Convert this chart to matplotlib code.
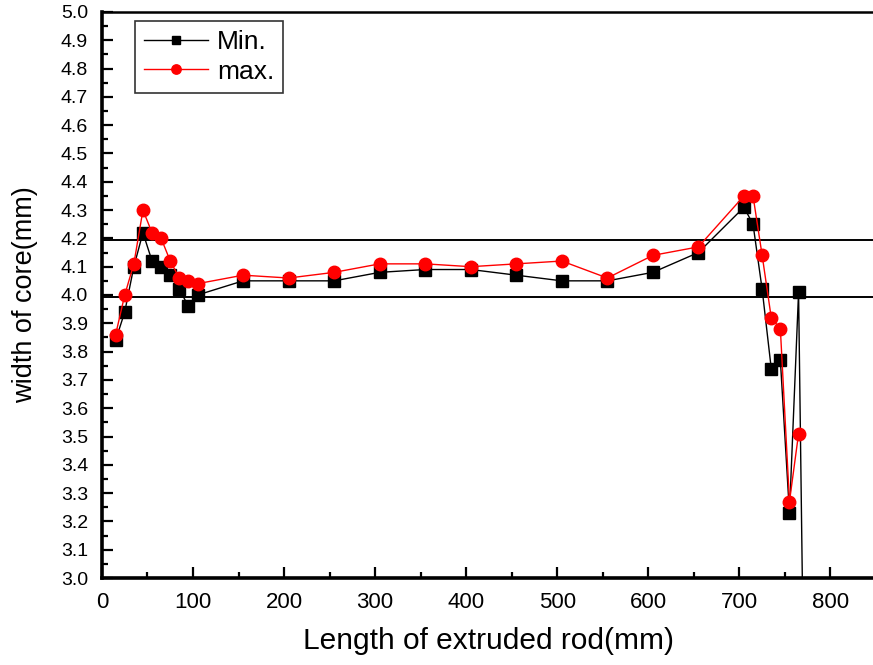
import numpy as np
import matplotlib
matplotlib.use("Agg")
import matplotlib.pyplot as plt
from matplotlib.ticker import MultipleLocator

# Sampling positions along the rod (mm)
length_mm = [15, 25, 35, 45, 55, 65, 75, 85, 95, 105,
             155, 205, 255, 305, 355, 405, 455, 505, 555, 605, 655,
             705, 715, 725, 735, 745, 755, 765]

width_min = [3.84, 3.94, 4.10, 4.22, 4.12, 4.10, 4.07, 4.02, 3.96, 4.00,
             4.05, 4.05, 4.05, 4.08, 4.09, 4.09, 4.07, 4.05, 4.05, 4.08, 4.15,
             4.31, 4.25, 4.02, 3.74, 3.77, 3.23, 4.01]
width_max = [3.86, 4.00, 4.11, 4.30, 4.22, 4.20, 4.12, 4.06, 4.05, 4.04,
             4.07, 4.06, 4.08, 4.11, 4.11, 4.10, 4.11, 4.12, 4.06, 4.14, 4.17,
             4.35, 4.35, 4.14, 3.92, 3.88, 3.27, 3.51]

# last Min. reading falls far below the axis range (only its line shows)
min_tail_x = 775
min_tail_y = 1.55

limit_upper = 4.193
limit_lower = 3.992

plt.rcParams["font.family"] = ["Liberation Sans", "DejaVu Sans"]

fig = plt.figure(figsize=(8.73, 6.65), dpi=100)
ax = fig.add_axes([0.1168, 0.1308, 0.8866, 0.8512])

ax.axhline(limit_upper, color="black", lw=1.4, zorder=1)
ax.axhline(limit_lower, color="black", lw=1.4, zorder=1)

ax.plot(length_mm + [min_tail_x], width_min + [min_tail_y], color="black",
        lw=1.0, marker="s", ms=8, markevery=list(range(len(length_mm))),
        label="Min.", zorder=2)
ax.plot(length_mm, width_max, color="red", lw=1.0, marker="o", ms=9,
        label="max.", zorder=3)

ax.set_xlim(0, 850)
ax.set_ylim(3.0, 5.0)
ax.xaxis.set_major_locator(MultipleLocator(100))
ax.xaxis.set_minor_locator(MultipleLocator(50))
ax.yaxis.set_major_locator(MultipleLocator(0.1))
ax.yaxis.set_minor_locator(MultipleLocator(0.05))
ax.tick_params(which="both", direction="in", width=1.6, top=False)
ax.tick_params(which="major", length=8)
ax.tick_params(which="minor", length=4.5)
ax.tick_params(axis="x", labelsize=16, pad=10)
ax.tick_params(axis="y", labelsize=14, pad=10)

for side in ("left", "bottom"):
    ax.spines[side].set_linewidth(2.6)
ax.spines["top"].set_linewidth(1.8)
ax.spines["right"].set_visible(False)

ax.set_xlabel("Length of extruded rod(mm)", fontsize=21.5, labelpad=10)
ax.set_ylabel("width of core(mm)", fontsize=19.5, labelpad=16)

leg = ax.legend(loc="upper left", bbox_to_anchor=(0.0426, 0.984), fontsize=19,
                frameon=True, fancybox=False, edgecolor="black",
                handlelength=2.4, handletextpad=0.35, borderpad=0.35,
                labelspacing=0.2, markerscale=0.75, borderaxespad=0)
leg.get_frame().set_linewidth(1.2)

fig.savefig("out.png", dpi=100)
